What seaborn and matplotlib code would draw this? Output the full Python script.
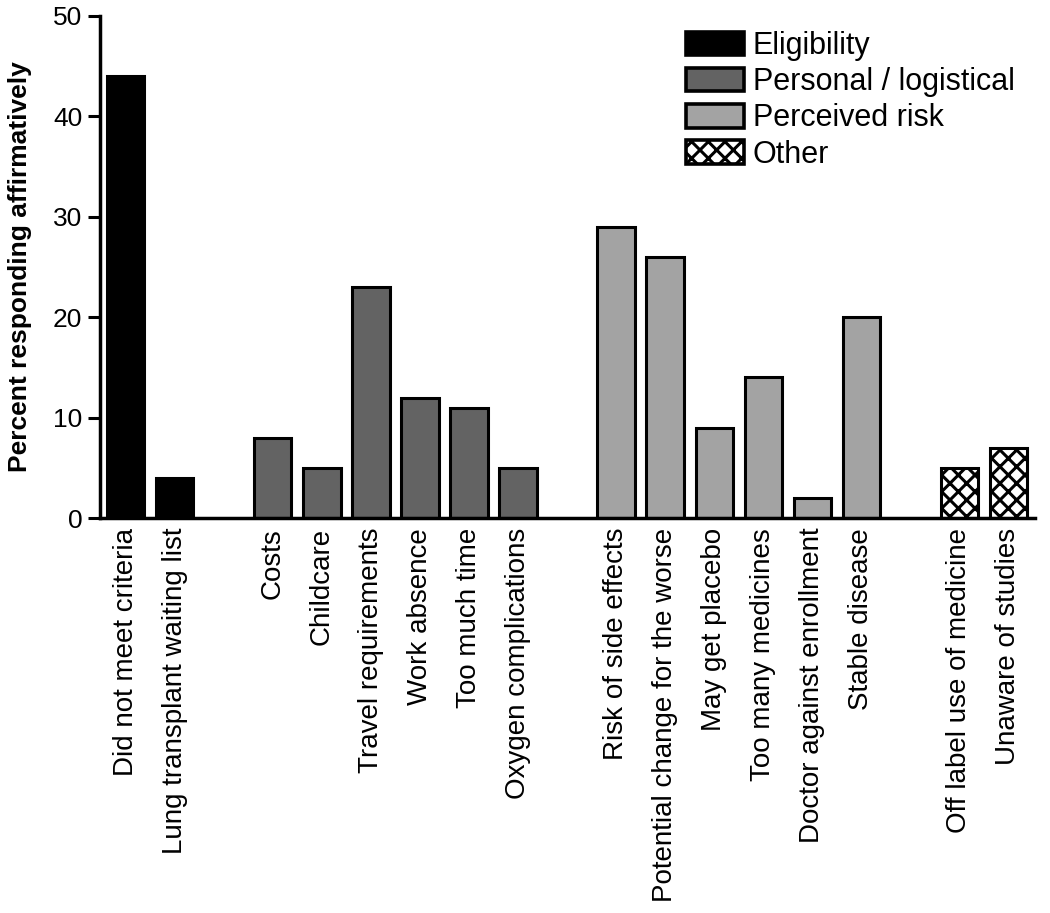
import pandas as pd
import numpy as np
import matplotlib.pyplot as plt
import seaborn as sns
from matplotlib.patches import Patch

# data
eligibility = ["Did not meet criteria", "Lung transplant waiting list"]
eligibility_vals = [44, 4]
personal = ["Costs", "Childcare", "Travel requirements", "Work absence",
            "Too much time", "Oxygen complications"]
personal_vals = [8, 5, 23, 12, 11, 5]
risk = ["Risk of side effects", "Potential change for the worse", "May get placebo",
        "Too many medicines", "Doctor against enrollment", "Stable disease"]
risk_vals = [29, 26, 9, 14, 2, 20]
other = ["Off label use of medicine", "Unaware of studies"]
other_vals = [5, 7]

groups = ["Eligibility", "Personal / logistical", "Perceived risk", "Other"]
group_items = [eligibility, personal, risk, other]
group_vals = [eligibility_vals, personal_vals, risk_vals, other_vals]
group_colors = {"Eligibility": "#000000", "Personal / logistical": "#636363",
                "Perceived risk": "#a3a3a3", "Other": "#ffffff"}

rows = []
for g, items, vals in zip(groups, group_items, group_vals):
    for it, v in zip(items, vals):
        rows.append({"reason": it, "pct": v, "group": g})
df = pd.DataFrame(rows)

# category order with blank spacer slots between groups
order = []
for i, items in enumerate(group_items):
    if i > 0:
        order.append(" " * i)
    order.extend(items)

plt.rcParams['font.family'] = ['Liberation Sans', 'DejaVu Sans']
plt.rcParams['hatch.linewidth'] = 2.2

fig = plt.figure(figsize=(10.5, 9.13), dpi=100)
ax = fig.add_axes([0.095, 0.4326, 0.891, 0.5499])

sns.barplot(data=df, x="reason", y="pct", hue="group", order=order,
            palette=group_colors, dodge=False, width=0.76,
            edgecolor="black", linewidth=2.2, legend=False, ax=ax)

# hatch the "Other" bars
for bar in ax.patches:
    idx = int(round(bar.get_x() + bar.get_width() / 2))
    if 0 <= idx < len(order) and order[idx] in other:
        bar.set_hatch("xx")

ax.set_xlim(-0.53, len(order) - 0.45)
ax.set_ylim(0, 50)
ax.set_yticks([0, 10, 20, 30, 40, 50])
ax.set_xticks(range(len(order)))
ax.set_xticklabels(order, rotation=90, fontsize=20)
ax.tick_params(axis='x', length=0, pad=7)
ax.tick_params(axis='y', labelsize=19, width=2.2, length=9, direction='out')
ax.set_xlabel("")
ax.set_ylabel("Percent responding affirmatively", fontsize=19, fontweight='bold',
              labelpad=15)
for s in ["top", "right"]:
    ax.spines[s].set_visible(False)
for s in ["left", "bottom"]:
    ax.spines[s].set_linewidth(2.5)

handles = [Patch(facecolor=group_colors[g], edgecolor="black", linewidth=2.6,
                 hatch="xx" if g == "Other" else None) for g in groups]
ax.legend(handles, groups, loc="upper left", bbox_to_anchor=(0.61, 1.0),
          frameon=False, fontsize=22, handlelength=1.9, handleheight=0.8,
          handletextpad=0.3, labelspacing=0.2, borderaxespad=0.1)

fig.savefig("out.png", dpi=100)
